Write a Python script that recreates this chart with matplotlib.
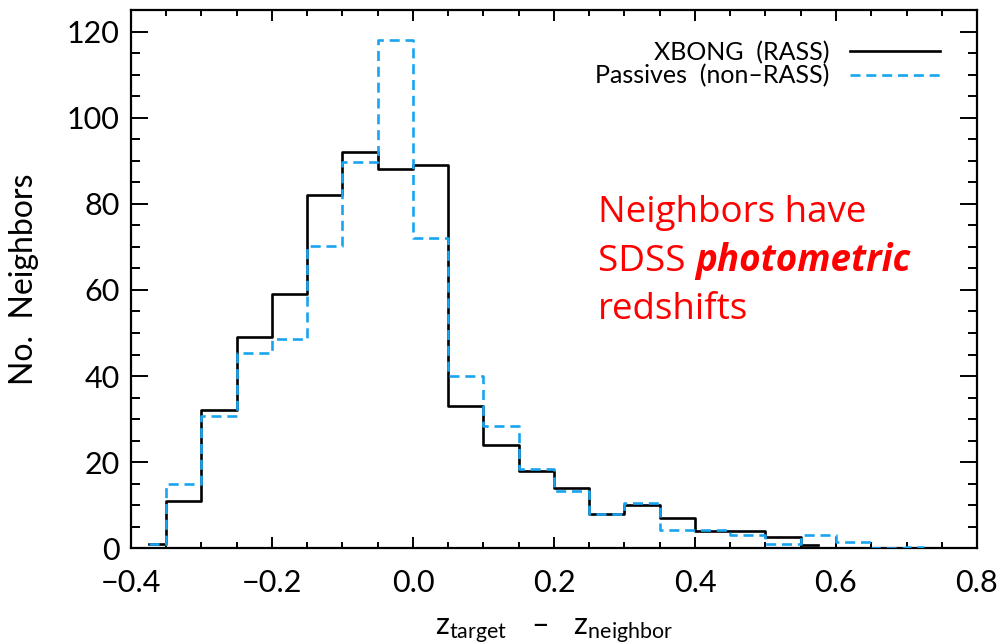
import matplotlib
matplotlib.use("Agg")
import matplotlib.pyplot as plt
from matplotlib.ticker import MultipleLocator
from matplotlib.lines import Line2D

# Histogram bin centres (bin width 0.05); the end points are half bins
xbong_centers = [-0.375, -0.325, -0.275, -0.225, -0.175, -0.125, -0.075, -0.025,
                 0.025, 0.075, 0.125, 0.175, 0.225, 0.275, 0.325, 0.375,
                 0.425, 0.475, 0.525, 0.575]
xbong_counts = [1, 11, 32, 49, 59, 82, 92, 88,
                89, 33, 24, 18, 14, 8, 10, 7,
                4, 4, 2.7, 0.8]

passive_centers = [-0.375, -0.325, -0.275, -0.225, -0.175, -0.125, -0.075, -0.025,
                   0.025, 0.075, 0.125, 0.175, 0.225, 0.275, 0.325, 0.375,
                   0.425, 0.475, 0.525, 0.575, 0.625, 0.675, 0.725]
passive_counts = [1.1, 15, 30.7, 45.3, 48.5, 70.2, 89.8, 118,
                  72, 40, 28.4, 18.3, 13.3, 8, 10.6, 4.2,
                  4.3, 3.1, 0.9, 3.1, 1.5, 0, 0.4]

series_labels = ["XBONG  (RASS)", "Passives  (non\u2013RASS)"]
x_label = "$\\mathrm{z_{target}}\\ \\ \\ \u2013\\ \\ \\ \\mathrm{z_{neighbor}}$"
y_label = "No.  Neighbors"
note_lines = ["Neighbors have", "SDSS ", "photometric", "redshifts"]

FONT = ["Lato", "DejaVu Sans"]
plt.rcParams["font.family"] = FONT
plt.rcParams["mathtext.fontset"] = "custom"
plt.rcParams["mathtext.rm"] = "Lato"
plt.rcParams["mathtext.it"] = "Lato"

fig = plt.figure(figsize=(10.03, 6.44), dpi=100)
ax = fig.add_axes([131 / 1003, 1 - 548.3 / 644, 846 / 1003, 538.3 / 644])

blue = "#19a4f0"
ax.step(xbong_centers, xbong_counts, where="mid", color="black", lw=1.9,
        label=series_labels[0], zorder=3)
ax.step(passive_centers, passive_counts, where="mid", color=blue, lw=1.9,
        dashes=(3.8, 2.2), label=series_labels[1], zorder=4)

ax.set_xlim(-0.4, 0.8)
ax.set_ylim(0, 125)
ax.xaxis.set_major_locator(MultipleLocator(0.2))
ax.xaxis.set_minor_locator(MultipleLocator(0.05))
ax.yaxis.set_major_locator(MultipleLocator(20))
ax.yaxis.set_minor_locator(MultipleLocator(5))
ax.xaxis.set_major_formatter(lambda v, p: f"{v:.1f}".replace("-", "\u2212"))
ax.yaxis.set_major_formatter(lambda v, p: f"{v:.0f}")

ax.tick_params(which="both", direction="in", top=True, right=True,
               width=1.4, colors="black", labelsize=22)
ax.tick_params(axis="x", which="both", pad=15)
ax.tick_params(axis="y", which="both", pad=8)
ax.tick_params(axis="x", which="major", length=8)
ax.tick_params(axis="x", which="minor", length=4)
ax.tick_params(axis="y", which="major", length=12.5)
ax.tick_params(axis="y", which="minor", length=6.5)
for s in ax.spines.values():
    s.set_linewidth(1.6)

ax.set_xlabel(x_label, fontsize=22, labelpad=14)
ax.set_ylabel(y_label, fontsize=23, labelpad=20)

handles = [Line2D([], [], color="black", lw=1.9),
           Line2D([], [], color=blue, lw=1.9, dashes=(3.8, 2.2))]
ax.legend(handles, series_labels, loc="upper right",
          bbox_to_anchor=(0.956, 0.943), borderaxespad=0, borderpad=0,
          frameon=False, markerfirst=False, fontsize=18,
          handlelength=3.6, handletextpad=0.8, labelspacing=0.0)

red = "#ff0000"
tx = 598 / 1003
ax_note = dict(color=red, fontsize=26.5, family=["Open Sans", "DejaVu Sans"],
               transform=fig.transFigure, va="baseline", ha="left")
fig.text(tx, 1 - 221.7 / 644, note_lines[0], weight="normal", **ax_note)
t1 = fig.text(tx, 1 - 270.7 / 644, note_lines[1], weight="normal", **ax_note)
fig.canvas.draw()
bb = t1.get_window_extent()
fig.text(bb.x1 / fig.bbox.width, 1 - 270.7 / 644, note_lines[2],
         weight="bold", style="italic", **ax_note)
fig.text(tx, 1 - 319.3 / 644, note_lines[3], weight="normal", **ax_note)

fig.savefig("out.png", dpi=100)
